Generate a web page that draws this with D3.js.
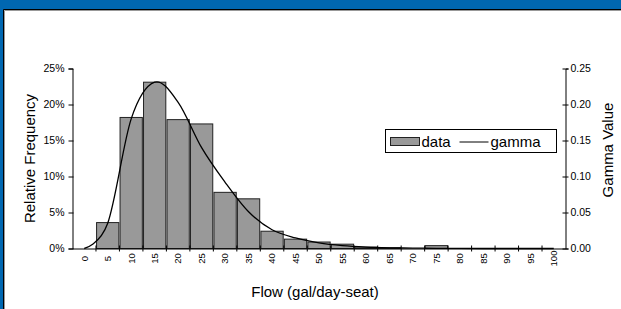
<!DOCTYPE html>
<html>
<head>
<meta charset="utf-8">
<script src="https://cdn.jsdelivr.net/npm/d3@7/dist/d3.min.js"></script>
<style>
	body { margin: 0; background: #0067b1; }
	svg { display: block; }
	text { font-family: Arial, "Liberation Sans", sans-serif; fill: #000; }
</style>
</head>
<body>
<svg id="chart" width="621" height="309"></svg>
<script>
// flow classes (gal/day-seat)
var categories = ["0","5","10","15","20","25","30","35","40","45","50","55","60","65","70","75","80","85","90","95","100"];
// relative frequency of observed data
var freq = [0, 0.036, 0.182, 0.231, 0.179, 0.173, 0.078, 0.069, 0.024, 0.013, 0.009, 0.006, 0.002, 0.001, 0, 0.004, 0, 0, 0, 0, 0];
// fitted gamma density
var gamma = [0, 0.035, 0.180, 0.231, 0.203, 0.140, 0.092, 0.051, 0.026, 0.0147, 0.0078, 0.004, 0.002, 0.001, 0.0005, 0.0003, 0.0001, 0, 0, 0, 0];
var leftTicks = [0, 0.05, 0.10, 0.15, 0.20, 0.25];
var rightTicks = [0, 0.05, 0.10, 0.15, 0.20, 0.25];

var chart = {};
chart.left = 72.5;
chart.right = 565.5;
chart.top = 68.5;
chart.bottom = 248.5;

var svg = d3.select("#chart");

// white panel with the dark bevel on top / left
svg.append("rect").attr("x", 4).attr("y", 10).attr("width", 617).attr("height", 299).style("fill", "#fff");
svg.append("path").attr("d", "M3.5,309V9.5H621").style("fill", "none").style("stroke", "#000");
svg.append("path").attr("d", "M4.5,309V10.5H621").style("fill", "none").style("stroke", "#999");

var x = d3.scaleBand().domain(categories).range([chart.left, chart.right]).padding(0);
var y = d3.scaleLinear().domain([0, 0.25]).range([chart.bottom, chart.top]);
var y2 = d3.scaleLinear().domain([0, 0.25]).range([chart.bottom, chart.top]);

var gap = 0.6;

// bars
svg.append("g").selectAll("rect")
	.data(freq.map(function(v, i){ return {c: categories[i], v: v}; }).filter(function(d){ return d.v > 0; }))
	.enter().append("rect")
	.attr("x", function(d){ return x(d.c) + gap; })
	.attr("y", function(d){ return y(d.v); })
	.attr("width", x.bandwidth() - 2 * gap)
	.attr("height", function(d){ return chart.bottom - y(d.v); })
	.style("fill", "#999")
	.style("stroke", "#222")
	.style("stroke-width", 1);

// gamma curve
var line = d3.line()
	.x(function(d, i){ return x(categories[i]) + x.bandwidth() / 2; })
	.y(function(d){ return y2(d); })
	.curve(d3.curveCardinal.tension(0));

svg.append("path")
	.datum(gamma)
	.attr("d", line)
	.style("fill", "none")
	.style("stroke", "#000")
	.style("stroke-width", 1.3);

// left axis
var yAxis = svg.append("g")
	.attr("transform", "translate(" + chart.left + ",0)")
	.call(d3.axisLeft(y).tickValues(leftTicks).tickFormat(d3.format(".0%")).tickSizeOuter(0).tickSize(4).tickPadding(4));
yAxis.selectAll(".tick line").attr("x2", -4).attr("x1", 1);

// right axis
var y2Axis = svg.append("g")
	.attr("transform", "translate(" + chart.right + ",0)")
	.call(d3.axisRight(y2).tickValues(rightTicks).tickFormat(d3.format(".2f")).tickSizeOuter(0).tickSize(3).tickPadding(2));
y2Axis.selectAll(".tick line").attr("x1", -3);

// bottom axis: labels at category centres, ticks between categories
var xAxis = svg.append("g")
	.attr("transform", "translate(0," + chart.bottom + ")")
	.call(d3.axisBottom(x).tickSizeOuter(0).tickSize(0));
xAxis.selectAll(".tick text")
	.attr("x", 0).attr("y", 0).attr("dy", "0.35em")
	.attr("text-anchor", "middle")
	.attr("transform", "translate(0,10) rotate(-90)");
xAxis.selectAll(".boundary")
	.data(categories.slice(1))
	.enter().append("line")
	.attr("class", "boundary")
	.attr("x1", function(d){ return x(d); })
	.attr("x2", function(d){ return x(d); })
	.attr("y1", -3).attr("y2", 3)
	.style("stroke", "#000");

svg.selectAll(".domain").style("stroke", "#000");
svg.selectAll(".tick line").style("stroke", "#000");
yAxis.selectAll(".tick text").style("font-size", "10.5px").style("fill", "#000");
y2Axis.selectAll(".tick text").style("font-size", "10.5px").style("fill", "#000");
xAxis.selectAll(".tick text").style("font-size", "9.5px").style("fill", "#000");

// axis titles
svg.append("text")
	.attr("transform", "translate(35,158.5) rotate(-90)")
	.attr("text-anchor", "middle")
	.style("font-size", "15px")
	.text("Relative Frequency");

svg.append("text")
	.attr("transform", "translate(613,150) rotate(-90)")
	.attr("text-anchor", "middle")
	.style("font-size", "15px")
	.text("Gamma Value");

svg.append("text")
	.attr("x", 315)
	.attr("y", 297)
	.attr("text-anchor", "middle")
	.style("font-size", "15px")
	.text("Flow (gal/day-seat)");

// legend
var legend = svg.append("g").attr("transform", "translate(385.5,129.5)");
legend.append("rect").attr("width", 171).attr("height", 23).style("fill", "#fff").style("stroke", "#000");
legend.append("rect").attr("x", 5).attr("y", 8).attr("width", 29).attr("height", 8).style("fill", "#999").style("stroke", "#222");
legend.append("text").attr("x", 36).attr("y", 17).style("font-size", "15px").text("data");
legend.append("line").attr("x1", 74).attr("x2", 103).attr("y1", 12.5).attr("y2", 12.5).style("stroke", "#000");
legend.append("text").attr("x", 105).attr("y", 17).style("font-size", "15px").text("gamma");
</script>
</body>
</html>
